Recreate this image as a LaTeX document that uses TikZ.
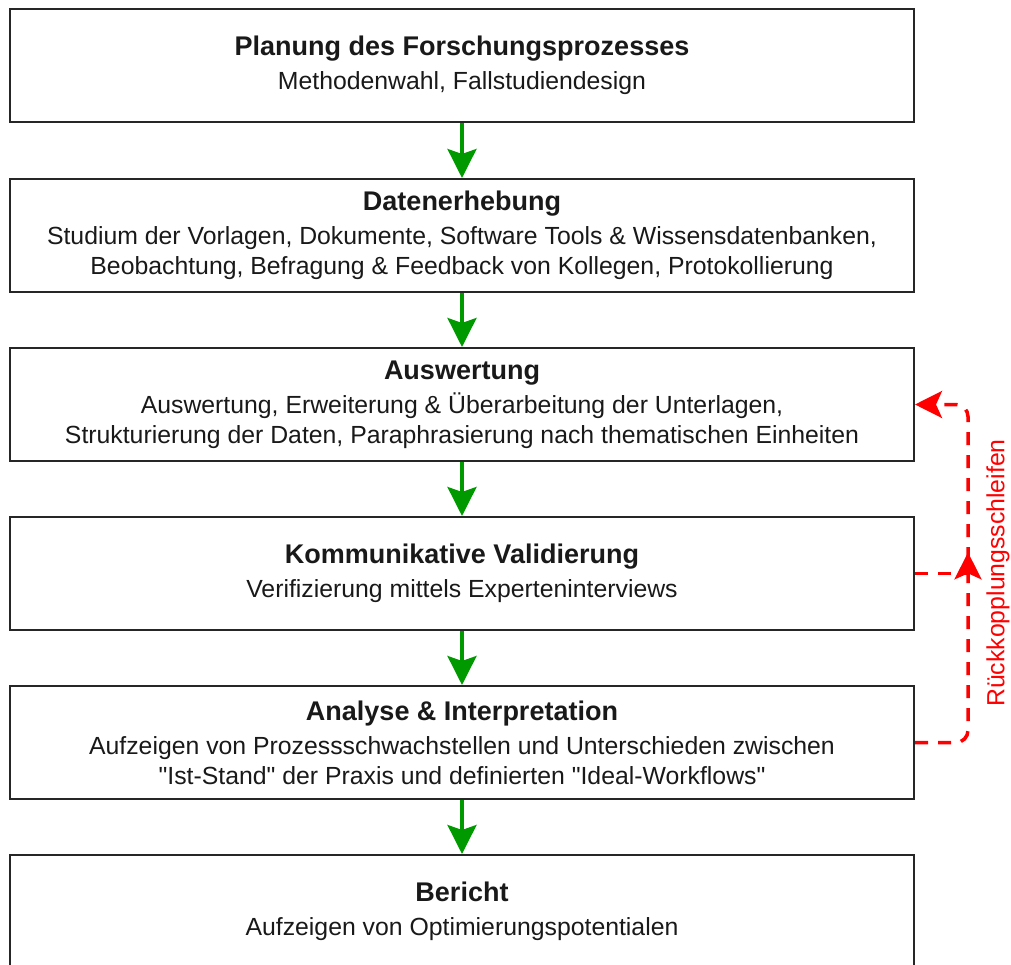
\documentclass[tikz,border=0pt]{standalone}
\usepackage{fontspec}
\setmainfont{Liberation Sans}[Ligatures=TeXOff]
\usetikzlibrary{arrows.meta,decorations.markings}
\definecolor{flowgreen}{RGB}{0,153,0}
\definecolor{loopred}{RGB}{255,0,0}
\definecolor{txt}{RGB}{25,25,25}
\newcommand{\ttl}[1]{{\fontsize{27}{30}\selectfont\bfseries #1}\\[4pt]}
\tikzset{
  stage/.style={draw=black!85, line width=2pt, rectangle, minimum width=904pt, minimum height=113pt,
    align=center, text=txt, font=\fontsize{24.8}{30}\selectfont, inner sep=0pt},
  flow/.style={draw=flowgreen, line width=3.5pt, -{Stealth[length=29pt,width=29pt,inset=5pt]}},
  loop/.style={draw=loopred, line width=3.5pt, dash pattern=on 13pt off 10pt},
  looptip/.style={-{Stealth[length=27pt,width=27pt,inset=6pt]}}
}
\begin{document}
\begin{tikzpicture}[x=1pt,y=-1pt]
\useasboundingbox (0,0) rectangle (1011,965);
\node[stage] (s1) at (462,65.5) {\ttl{Planung des Forschungsprozesses}Methodenwahl, Fallstudiendesign};
\node[stage] (s2) at (462,235.5) {\ttl{Datenerhebung}Studium der Vorlagen, Dokumente, Software Tools \& Wissensdatenbanken,\\Beobachtung, Befragung \& Feedback von Kollegen, Protokollierung};
\node[stage] (s3) at (462,404.5) {\ttl{Auswertung}Auswertung, Erweiterung \& Überarbeitung der Unterlagen,\\Strukturierung der Daten, Paraphrasierung nach thematischen Einheiten};
\node[stage] (s4) at (462,573.5) {\ttl{Kommunikative Validierung}Verifizierung mittels Experteninterviews};
\node[stage] (s5) at (462,742.5) {\ttl{Analyse \& Interpretation}Aufzeigen von Prozessschwachstellen und Unterschieden zwischen\\"Ist-Stand" der Praxis und definierten "Ideal-Workflows"};
\node[stage] (s6) at (462,911.5) {\ttl{Bericht}Aufzeigen von Optimierungspotentialen};
\draw[flow] (s1.south) -- (s2.north);
\draw[flow] (s2.south) -- (s3.north);
\draw[flow] (s3.south) -- (s4.north);
\draw[flow] (s4.south) -- (s5.north);
\draw[flow] (s5.south) -- (s6.north);
\coordinate (j) at (968,573.5);
\draw[loop, looptip, rounded corners=12pt,
  postaction={decorate, decoration={markings,
    mark=at position 238pt with {\arrow[loopred,solid]{Stealth[length=27pt,width=27pt,inset=6pt]}}}}]
  (s5.east) -- (968,742.5) -- (968,404.5) -- (s3.east);
\draw[loop] (s4.east) -- (j);
\node[text=loopred, font=\fontsize{24.8}{30}\selectfont, rotate=90] (lbl) at (998,573) {Rückkopplungsschleifen};
\end{tikzpicture}
\end{document}
